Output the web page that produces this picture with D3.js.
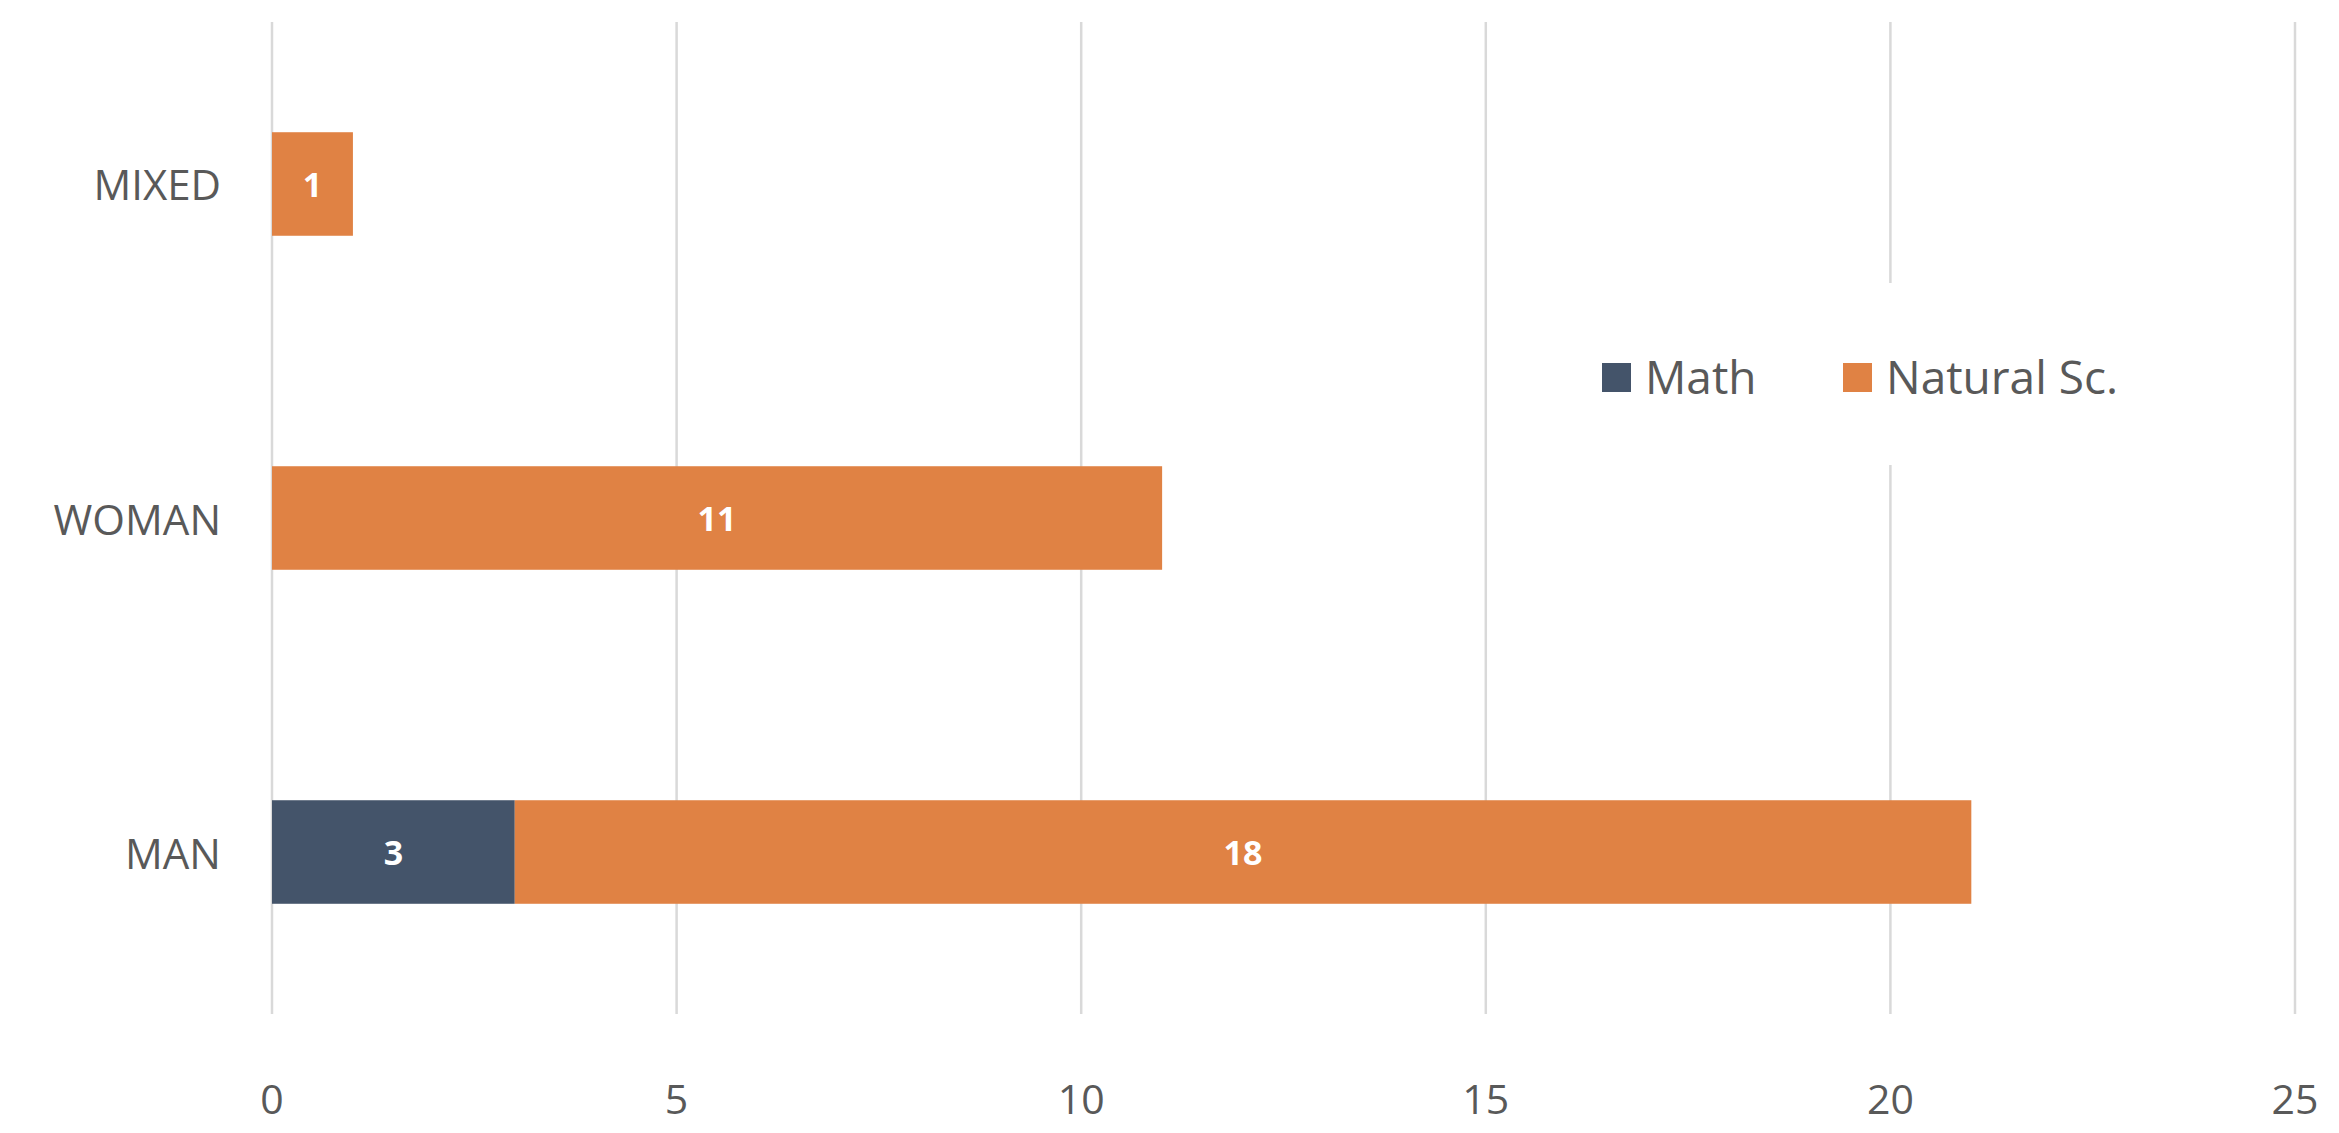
<!DOCTYPE html>
<html>
<head>
<meta charset="utf-8">
<script src="https://cdn.jsdelivr.net/npm/d3@7"></script>
<style>
  body { margin: 0; background: #fff; }
  text { font-family: "Open Sans", "Noto Sans", sans-serif; }
</style>
</head>
<body>
<div id="root"></div>
<script>
const categories = ["MIXED", "WOMAN", "MAN"];
const seriesNames = ["Math", "Natural Sc."];
const mathValues = [0, 0, 3];
const naturalValues = [1, 11, 18];
const xTicks = [0, 5, 10, 15, 20, 25];
const colors = ["#44546a", "#e08244"];

const width = 2339;
const height = 1133;

const svg = d3
  .select("#root")
  .append("svg")
  .attr("width", width)
  .attr("height", height);

const x = d3.scaleLinear().domain([0, 25]).range([272, 2295]);
const y = d3.scaleBand().domain(categories).range([22, 1014]).paddingInner(0.69).paddingOuter(0.33);

// gridlines (broken behind legend at 20)
const gridTop = 22, gridBottom = 1014;
svg
  .append("g")
  .selectAll("line")
  .data(xTicks)
  .join("line")
  .attr("x1", (d) => x(d))
  .attr("x2", (d) => x(d))
  .attr("y1", gridTop)
  .attr("y2", gridBottom)
  .attr("stroke", "#d9d9d9")
  .attr("stroke-width", 2.5);

// white gap behind legend
svg
  .append("rect")
  .attr("x", 1580)
  .attr("y", 283)
  .attr("width", 620)
  .attr("height", 182)
  .attr("fill", "#fff");

// stacked bars
const rows = categories.map((c, i) => ({ cat: c, vals: [mathValues[i], naturalValues[i]] }));
const segs = [];
rows.forEach((r) => {
  let acc = 0;
  r.vals.forEach((v, j) => {
    if (v > 0) segs.push({ cat: r.cat, x0: acc, x1: acc + v, v, j });
    acc += v;
  });
});

svg
  .append("g")
  .selectAll("rect")
  .data(segs)
  .join("rect")
  .attr("x", (d) => x(d.x0))
  .attr("y", (d) => y(d.cat))
  .attr("width", (d) => x(d.x1) - x(d.x0))
  .attr("height", y.bandwidth())
  .attr("fill", (d) => colors[d.j]);

svg
  .append("g")
  .selectAll("text")
  .data(segs)
  .join("text")
  .attr("x", (d) => (x(d.x0) + x(d.x1)) / 2)
  .attr("y", (d) => y(d.cat) + y.bandwidth() / 2)
  .attr("text-anchor", "middle")
  .attr("dominant-baseline", "central")
  .attr("fill", "#fff")
  .attr("font-weight", "bold")
  .attr("font-size", 34)
  .text((d) => d.v);

// category labels
svg
  .append("g")
  .selectAll("text")
  .data(categories)
  .join("text")
  .attr("x", 221)
  .attr("y", (d) => y(d) + y.bandwidth() / 2)
  .attr("text-anchor", "end")
  .attr("dominant-baseline", "central")
  .attr("fill", "#595959")
  .attr("font-size", 42)
  .text((d) => d);

// x tick labels
svg
  .append("g")
  .selectAll("text")
  .data(xTicks)
  .join("text")
  .attr("x", (d) => x(d))
  .attr("y", 1098)
  .attr("text-anchor", "middle")
  .attr("dominant-baseline", "central")
  .attr("fill", "#595959")
  .attr("font-size", 41)
  .text((d) => d);

// legend
const legendX = [1602, 1843];
const legend = svg.append("g").selectAll("g").data(seriesNames).join("g");
legend
  .append("rect")
  .attr("x", (d, i) => legendX[i])
  .attr("y", 363)
  .attr("width", 29)
  .attr("height", 29)
  .attr("fill", (d, i) => colors[i]);
legend
  .append("text")
  .attr("x", (d, i) => legendX[i] + 43)
  .attr("y", 376)
  .attr("dominant-baseline", "central")
  .attr("fill", "#595959")
  .attr("font-size", 46)
  .text((d) => d);
</script>
</body>
</html>
